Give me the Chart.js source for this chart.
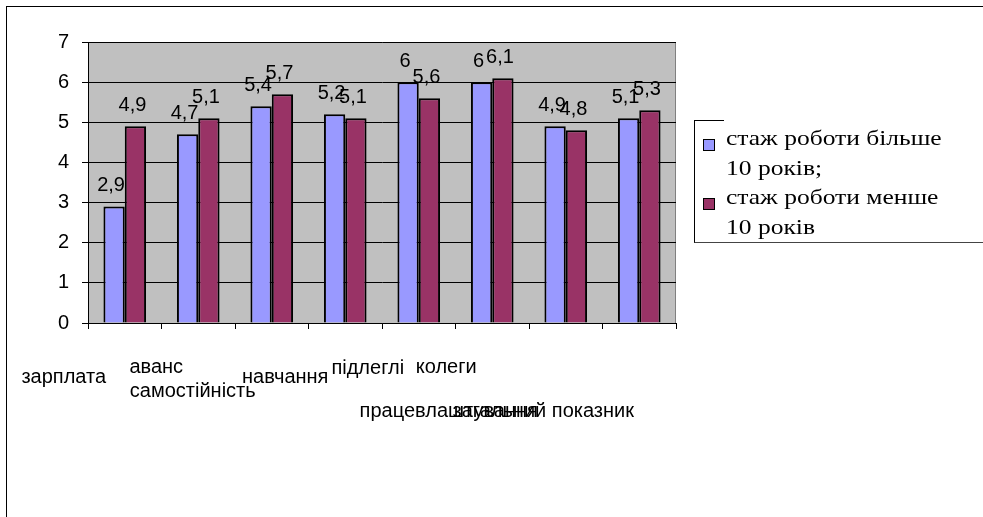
<!DOCTYPE html>
<html>
<head>
<meta charset="utf-8">
<script src="https://cdn.jsdelivr.net/npm/chart.js@4.4.1/dist/chart.umd.min.js"></script>
<style>
  html, body { margin: 0; padding: 0; background: #fff; overflow: hidden; }
  #frame { position: absolute; left: 6px; top: 6px; width: 1100px; height: 700px; border: 1.5px solid #000; }
  #chartCanvas { position: absolute; left: 0; top: 0; }
  #legend {
    position: absolute; left: 694px; top: 121px; width: 400px; height: 122px;
    border-left: 1px solid #000; border-bottom: 1px solid #444;
    font-family: "Liberation Serif", "Times New Roman", serif; font-size: 22px; line-height: 29.5px;
    padding-top: 2px; box-sizing: border-box;
  }
  #legendTop { position: absolute; left: -1px; top: -1px; width: 30px; border-top: 1px solid #000; }
  .legendItem { position: relative; padding-left: 31px; }
  .legendItem span.text { display: block; width: 192px; transform: scaleX(1.16); transform-origin: left center; }
  .legendItem span.box { position: absolute; left: 8px; top: 16px; width: 10px; height: 10px; border: 1px solid #000; }
</style>
</head>
<body>
<div id="frame"></div>
<canvas id="chartCanvas" width="983" height="517"></canvas>
<div id="legend"><div id="legendTop"></div></div>
<script>
// data
const CATEGORIES = ["зарплата", "аванс", "самостійність", "навчання", "підлеглі", "колеги", "працевлаштування", "загальний показник"];
const SERIES_NAMES = ["стаж роботи більше 10 років;", "стаж роботи менше 10 років"];
const MORE_THAN_10 = [2.9, 4.7, 5.4, 5.2, 6, 6, 4.9, 5.1];
const LESS_THAN_10 = [4.9, 5.1, 5.7, 5.1, 5.6, 6.1, 4.8, 5.3];
const Y_TICKS = [0, 1, 2, 3, 4, 5, 6, 7];

// styling
const COLORS = ["#9999ff", "#993366"];
const FONT = "'Liberation Sans', Arial, sans-serif";
// the category labels sit in odd places in the original, shifted from the tick centre
const LABEL_SHIFT_X = [-61, -42, -79, -60, -51, -46, -117, -96];
const LABEL_SHIFT_Y = [54, 44, 68, 54, 45, 44, 88, 88];

const plotBackground = {
  id: "plotBackground",
  beforeDraw(chart) {
    const a = chart.chartArea;
    const ctx = chart.ctx;
    ctx.save();
    ctx.fillStyle = "#c0c0c0";
    ctx.fillRect(a.left, a.top, a.right - a.left, a.bottom - a.top);
    ctx.strokeStyle = "#808080";
    ctx.lineWidth = 1;
    ctx.strokeRect(a.left + 0.5, a.top + 0.5, a.right - a.left - 1, a.bottom - a.top);
    ctx.restore();
  }
};

const valueLabels = {
  id: "valueLabels",
  afterDatasetsDraw(chart) {
    const ctx = chart.ctx;
    ctx.save();
    ctx.font = "20px " + FONT;
    ctx.fillStyle = "#000";
    ctx.textAlign = "center";
    ctx.textBaseline = "middle";
    chart.data.datasets.forEach((ds, di) => {
      chart.getDatasetMeta(di).data.forEach((bar, i) => {
        ctx.fillText(String(ds.data[i]).replace(".", ","), bar.x - 3, bar.y - 21);
      });
    });
    ctx.restore();
  }
};

const categoryLabels = {
  id: "categoryLabels",
  afterDraw(chart) {
    const ctx = chart.ctx;
    const xs = chart.scales.x;
    ctx.save();
    ctx.font = "20px " + FONT;
    ctx.fillStyle = "#000";
    ctx.textAlign = "center";
    ctx.textBaseline = "middle";
    chart.data.labels.forEach((lab, i) => {
      ctx.fillText(lab, xs.getPixelForValue(i) + LABEL_SHIFT_X[i], xs.top + LABEL_SHIFT_Y[i]);
    });
    ctx.restore();
  }
};

const chart = new Chart(document.getElementById("chartCanvas").getContext("2d"), {
  type: "bar",
  data: {
    labels: CATEGORIES,
    datasets: [
      { label: SERIES_NAMES[0], data: MORE_THAN_10, backgroundColor: COLORS[0], borderColor: "#000", borderWidth: 2 },
      { label: SERIES_NAMES[1], data: LESS_THAN_10, backgroundColor: COLORS[1], borderColor: "#000", borderWidth: 2 },
    ],
  },
  options: {
    responsive: false,
    animation: false,
    devicePixelRatio: 1,
    layout: { padding: { left: 0, top: 42, right: 307, bottom: 0 } },
    datasets: { bar: { categoryPercentage: 0.58, barPercentage: 1 } },
    plugins: { legend: { display: false }, tooltip: { enabled: false } },
    scales: {
      x: {
        grid: { drawOnChartArea: false, drawTicks: true, tickLength: 6, color: "#000", offset: true },
        border: { color: "#000" },
        ticks: { display: false },
        afterFit(scale) { scale.height = 194; },
      },
      y: {
        min: 0,
        max: 7,
        grid: { color: "#000", tickLength: 6 },
        border: { color: "#000" },
        ticks: { padding: 13, color: "#000", font: { family: FONT, size: 20 } },
        afterBuildTicks(scale) { scale.ticks = Y_TICKS.map((v) => ({ value: v })); },
        afterFit(scale) { scale.width = 88; },
      },
    },
  },
  plugins: [plotBackground, valueLabels, categoryLabels],
});

// legend as html so the long names can wrap like in the original
const legend = document.getElementById("legend");
chart.data.datasets.forEach((ds) => {
  const item = document.createElement("div");
  item.className = "legendItem";
  const box = document.createElement("span");
  box.className = "box";
  box.style.background = ds.backgroundColor;
  const text = document.createElement("span");
  text.className = "text";
  text.innerText = ds.label;
  item.appendChild(box);
  item.appendChild(text);
  legend.appendChild(item);
});
</script>
</body>
</html>
